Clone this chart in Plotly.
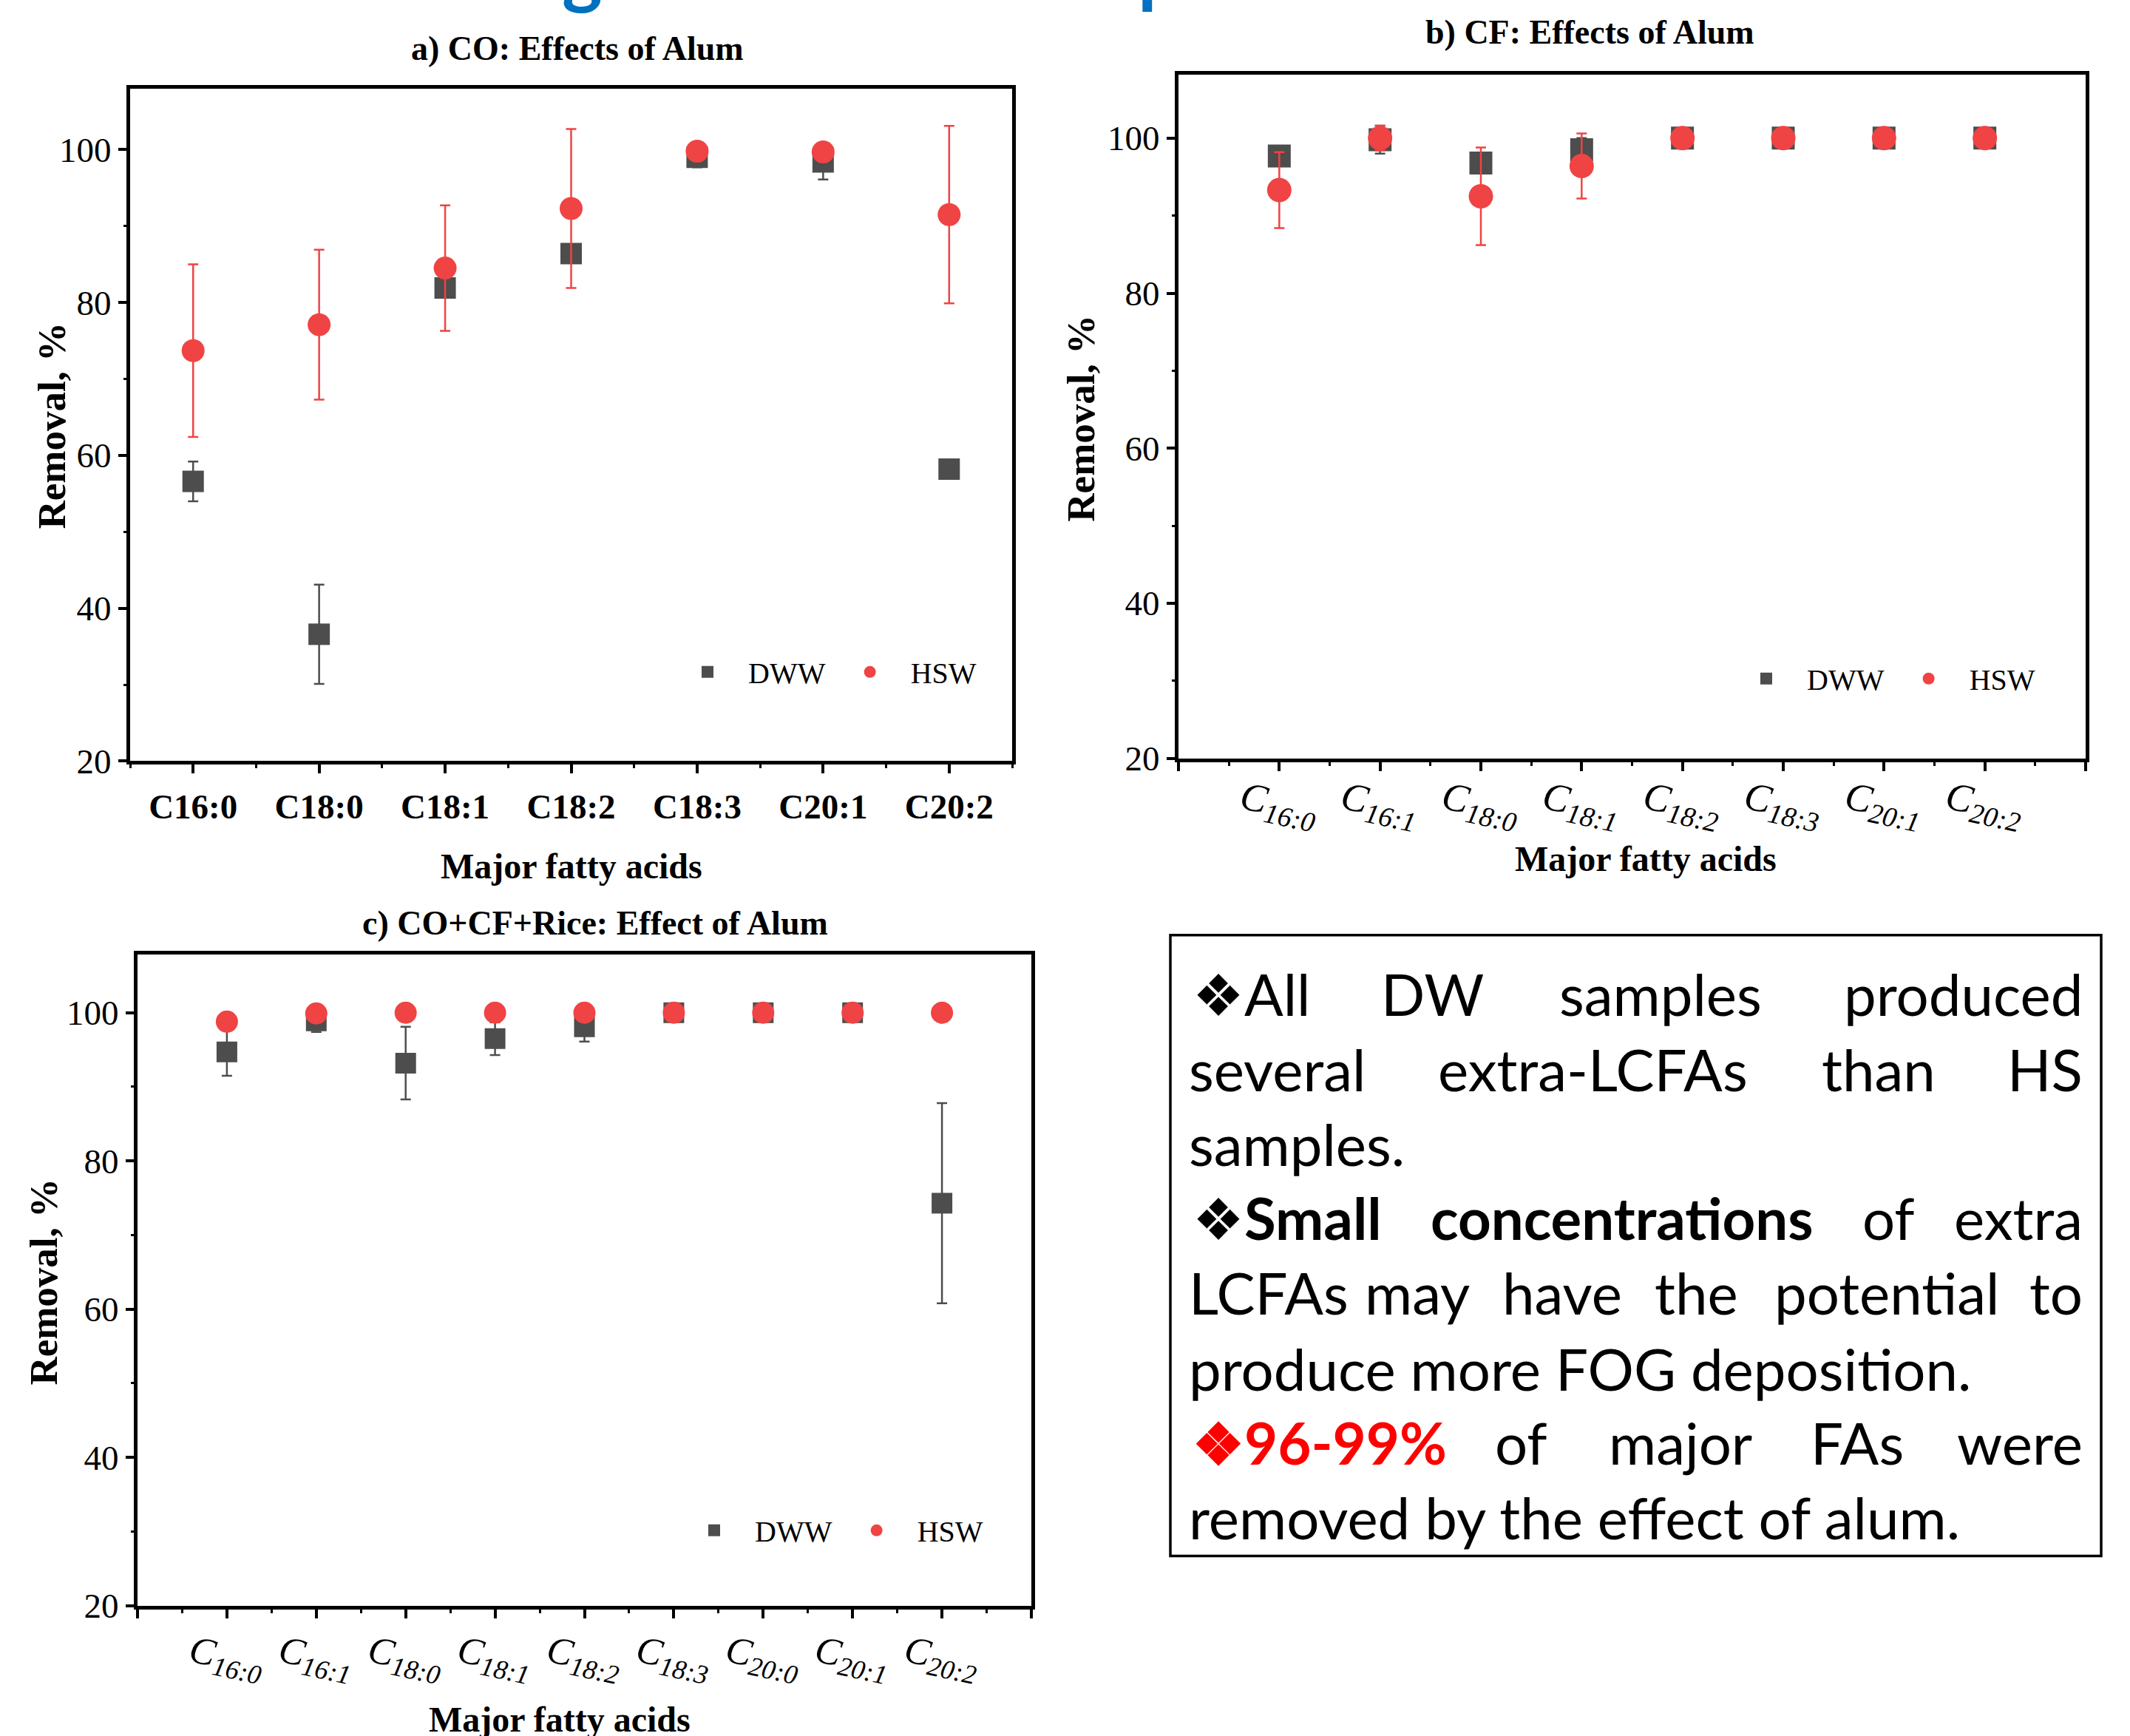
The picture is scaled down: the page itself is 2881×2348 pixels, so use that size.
import numpy as np
import plotly.graph_objects as go

W, H = 2881, 2348
SERIF = "Liberation Serif, Times New Roman, serif"
SANS = "Lato, Carlito, Calibri, sans-serif"
GRAY = "#4d4d4d"
RED = "#f04343"

# ---------------- data ----------------
# a) CO: Effects of Alum
cat_a = ["C16:0", "C18:0", "C18:1", "C18:2", "C18:3", "C20:1", "C20:2"]
dww_a = [56.6, 36.6, 81.9, 86.4, 99.0, 98.4, 58.2]
dww_a_err = [2.6, 6.5, 1.0, 1.0, 1.3, 2.3, 0.0]
hsw_a = [73.7, 77.1, 84.5, 92.3, 99.8, 99.7, 91.5]
hsw_a_err = [11.3, 9.8, 8.2, 10.4, 0.6, 0.6, 11.6]

# b) CF: Effects of Alum
cat_b = ["16:0", "16:1", "18:0", "18:1", "18:2", "18:3", "20:1", "20:2"]
dww_b = [97.7, 99.8, 96.8, 98.5, 100.0, 100.0, 100.0, 100.0]
dww_b_err = [0.8, 1.8, 0.8, 1.5, 0.3, 0.3, 0.3, 0.3]
hsw_b = [93.3, 100.0, 92.5, 96.4, 100.0, 100.0, 100.0, 100.0]
hsw_b_err = [4.9, 1.6, 6.3, 4.2, 0.0, 0.0, 0.0, 0.0]

# c) CO+CF+Rice: Effect of Alum
cat_c = ["16:0", "16:1", "18:0", "18:1", "18:2", "18:3", "20:0", "20:1", "20:2"]
dww_c = [94.7, 98.9, 93.2, 96.5, 98.1, 100.0, 100.0, 100.0, 74.3]
dww_c_err = [3.2, 1.5, 4.9, 2.2, 2.0, 0.3, 0.3, 0.3, 13.5]
hsw_c = [98.8, 99.9, 100.0, 100.0, 100.0, 100.0, 100.0, 100.0, 100.0]
hsw_c_err = [0.5, 0.6, 0.0, 0.0, 0.0, 0.0, 0.0, 0.0, 0.0]

y_ticks = [20, 40, 60, 80, 100]
y_minor = [30, 50, 70, 90]


def px(x):
    return x / W


def py(y):
    return 1 - y / H


fig = go.Figure()


def add_panel(idx, cats, dww, dww_err, hsw, hsw_err, msize, legend_name):
    xs = np.arange(1, len(cats) + 1)
    xa = "x" if idx == 1 else f"x{idx}"
    ya = "y" if idx == 1 else f"y{idx}"
    fig.add_trace(go.Scatter(
        x=xs, y=dww, mode="markers", name="DWW", legend=legend_name,
        xaxis=xa, yaxis=ya,
        marker=dict(symbol="square", size=msize, color=GRAY),
        error_y=dict(type="data", array=dww_err, color=GRAY, thickness=2.5, width=7),
    ))
    fig.add_trace(go.Scatter(
        x=xs, y=hsw, mode="markers", name="HSW", legend=legend_name,
        xaxis=xa, yaxis=ya,
        marker=dict(symbol="circle", size=msize + 2, color=RED),
        error_y=dict(type="data", array=hsw_err, color=RED, thickness=2.5, width=7),
    ))


add_panel(1, cat_a, dww_a, dww_a_err, hsw_a, hsw_a_err, 29, "legend")
add_panel(2, cat_b, dww_b, dww_b_err, hsw_b, hsw_b_err, 31, "legend2")
add_panel(3, cat_c, dww_c, dww_c_err, hsw_c, hsw_c_err, 28, "legend3")


def xaxis_cfg(dom, rng, tickvals, ticktext, font, angle, anchor, minor_vals,
              shift=0, standoff=0):
    return dict(
        domain=dom, range=rng, tickmode="array", tickvals=tickvals, ticktext=ticktext,
        tickfont=font, tickangle=angle, ticks="outside", ticklen=12, tickwidth=3.5,
        tickcolor="black", showline=True, linewidth=5, linecolor="black", mirror=True,
        showgrid=False, zeroline=False, anchor=anchor, fixedrange=True,
        ticklabelshift=shift, ticklabelstandoff=standoff,
        minor=dict(tickmode="array", tickvals=minor_vals, ticks="outside", ticklen=5,
                   tickwidth=3, tickcolor="black", showgrid=False),
    )


def yaxis_cfg(dom, rng, anchor):
    return dict(
        domain=dom, range=rng, tickmode="array", tickvals=y_ticks,
        ticktext=[str(v) for v in y_ticks],
        tickfont=dict(family=SERIF, size=47, color="black"),
        ticks="outside", ticklen=11, tickwidth=3.5, tickcolor="black",
        showline=True, linewidth=5, linecolor="black", mirror=True,
        showgrid=False, zeroline=False, anchor=anchor, fixedrange=True,
        minor=dict(tickmode="array", tickvals=y_minor, ticks="outside", ticklen=4,
                   tickwidth=3, tickcolor="black", showgrid=False),
    )


na, nb, nc = len(cat_a), len(cat_b), len(cat_c)
ticktext_a = [f"<b>{c}</b>" for c in cat_a]
ticktext_b = [""] + [f"<i>C<sub>{c}</sub></i>" for c in cat_b] + [""]
ticktext_c = [""] + [f"<i>C<sub>{c}</sub></i>" for c in cat_c] + [""]

fig.update_layout(
    xaxis=xaxis_cfg([px(176), px(1369)], [0.5, na + 0.5], list(np.arange(1, na + 1)), ticktext_a,
                    dict(family=SERIF, size=47, color="black"), 0, "y",
                    list(np.arange(0.5, na + 1, 1.0)), standoff=4),
    yaxis=yaxis_cfg([py(1041), py(121)], [20, 108.0], "x"),
    xaxis2=xaxis_cfg([px(1594), px(2821)], [0, nb + 1], list(np.arange(0, nb + 2)), ticktext_b,
                     dict(family=SERIF, size=54, color="black"), 12, "y2",
                     list(np.arange(0.5, nb + 1, 1.0)), shift=-50, standoff=-14),
    yaxis2=yaxis_cfg([py(1037), py(102)], [20, 108.2], "x2"),
    xaxis3=xaxis_cfg([px(186), px(1395)], [0, nc + 1], list(np.arange(0, nc + 2)), ticktext_c,
                     dict(family=SERIF, size=52, color="black"), 12, "y3",
                     list(np.arange(0.5, nc + 1, 1.0)), shift=-48, standoff=-4),
    yaxis3=yaxis_cfg([py(2196), py(1305)], [20, 107.9], "x3"),
)

leg_common = dict(orientation="h", xanchor="left", yanchor="middle",
                  font=dict(family=SERIF, size=40, color="black"), itemwidth=100,
                  bgcolor="rgba(0,0,0,0)", borderwidth=0)
fig.update_layout(
    legend=dict(x=px(902), y=py(919), **leg_common),
    legend2=dict(x=px(2334), y=py(928), **leg_common),
    legend3=dict(x=px(911), y=py(2093), **leg_common),
)

annotations = []


def add_text(text, x, y, size, family=SERIF, xanchor="center", yanchor="middle",
             angle=0, color="black"):
    annotations.append(dict(text=text, x=px(x), y=py(y), xref="paper", yref="paper",
                            xanchor=xanchor, yanchor=yanchor, showarrow=False,
                            textangle=angle, font=dict(family=family, size=size, color=color)))


# panel titles
add_text("<b>a) CO: Effects of Alum</b>", 781, 66, 46)
add_text("<b>b) CF: Effects of Alum</b>", 2150, 44, 46)
add_text("<b>c) CO+CF+Rice: Effect of Alum</b>", 805, 1262, 46)
# axis titles
add_text("<b>Major fatty acids</b>", 773, 1185, 48)
add_text("<b>Major fatty acids</b>", 2226, 1175, 48)
add_text("<b>Major fatty acids</b>", 757, 2352, 48)
add_text("<b>Removal, %</b>", 70, 582, 53, angle=-90)
add_text("<b>Removal, %</b>", 1462, 572, 53, angle=-90)
add_text("<b>Removal, %</b>", 59, 1753, 53, angle=-90)

# cut-off slide heading (only descenders visible)
add_text("<b>g</b>", 787, -42, 104, family=SANS, color="#0070c0")
add_text("<b>p</b>", 1568, -42, 104, family=SANS, color="#0070c0")

# text box
TF = 78
box_lines = [
    (1369, [("❖All", 1611, "left"), ("DW", 1937, "center"), ("samples", 2246, "center"),
            ("produced", 2819, "right")]),
    (1472, [("several", 1606, "left"), ("extra-LCFAs", 2154, "center"), ("than", 2541, "center"),
            ("HS", 2819, "right")]),
    (1575, [("samples.", 1606, "left")]),
    (1676, [("❖<b>Small</b>", 1611, "left"), ("<b>concentrations</b>", 2194, "center"),
            ("of", 2554, "center"), ("extra", 2819, "right")]),
    (1778, [("LCFAs", 1606, "left"), ("may", 1917, "center"), ("have", 2113, "center"),
            ("the", 2294, "center"), ("potential", 2552, "center"), ("to", 2819, "right")]),
    (1882, [("produce more FOG deposition.", 1606, "left")]),
    (1983, [("<span style='color:#ff0000'><b>❖96-99%</b></span>", 1611, "left"),
            ("of", 2057, "center"), ("major", 2273, "center"), ("FAs", 2512, "center"),
            ("were", 2819, "right")]),
    (2085, [("removed by the effect of alum.", 1606, "left")]),
]
for base, words in box_lines:
    for txt, x, anc in words:
        add_text(txt, x, base - 0.387 * TF + 20, TF, family=SANS, xanchor=anc)

fig.update_layout(
    annotations=annotations,
    shapes=[dict(type="rect", xref="paper", yref="paper", x0=px(1583), x1=px(2842),
                 y0=py(2128), y1=py(1279), line=dict(color="black", width=3.5))],
    width=W, height=H, autosize=False,
    margin=dict(l=0, r=0, t=0, b=0),
    paper_bgcolor="white", plot_bgcolor="white",
    font=dict(family=SERIF, color="black"),
)

fig.write_html("out.html")
